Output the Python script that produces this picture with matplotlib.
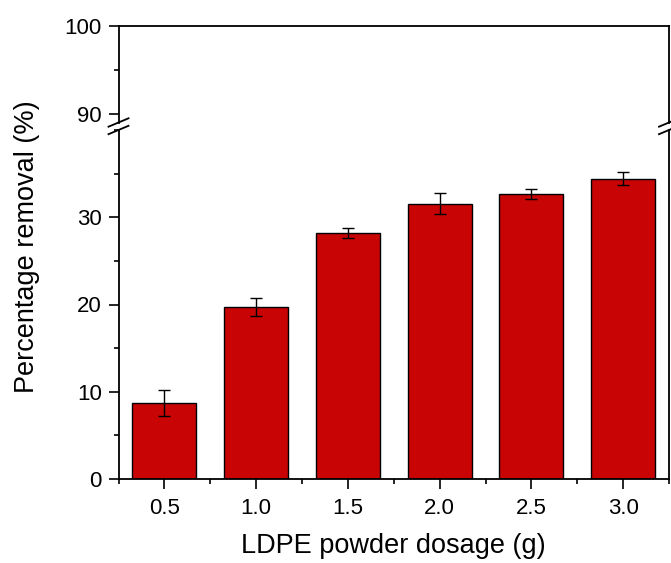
import matplotlib
matplotlib.use("Agg")
import matplotlib.pyplot as plt
from matplotlib.lines import Line2D
from matplotlib.ticker import MultipleLocator

plt.rcParams['font.family'] = ['Liberation Sans', 'DejaVu Sans']

dosage = [0.5, 1.0, 1.5, 2.0, 2.5, 3.0]
removal = [8.7, 19.75, 28.2, 31.55, 32.65, 34.4]
errors = [1.5, 1.03, 0.6, 1.2, 0.6, 0.75]
tick_labels = ['0.5', '1.0', '1.5', '2.0', '2.5', '3.0']

W, H = 671, 563
fig = plt.figure(figsize=(W / 100, H / 100), dpi=100)

# pixel geometry of the two axis segments
left, right = 118.5, 669
top_up, bot_up = 26, 122.5
top_lo, bot_lo = 130, 479

ax_up = fig.add_axes([left / W, 1 - bot_up / H, (right - left) / W, (bot_up - top_up) / H])
ax_lo = fig.add_axes([left / W, 1 - bot_lo / H, (right - left) / W, (bot_lo - top_lo) / H])

bar_color = '#C80404'
for ax in (ax_up, ax_lo):
    ax.bar(dosage, removal, width=0.35, color=bar_color, edgecolor='black', linewidth=1.0, zorder=2)
    ax.errorbar(dosage, removal, yerr=errors, fmt='none', ecolor='black', elinewidth=1.0,
                capsize=4, capthick=1.0, zorder=3)
    ax.set_xlim(0.25, 3.25)
    for s in ax.spines.values():
        s.set_linewidth(1.3)
    ax.tick_params(axis='both', which='major', direction='out', length=7, width=1.2,
                   labelsize=16, pad=5)
    ax.tick_params(axis='both', which='minor', direction='out', length=3.5, width=1.2)

ax_lo.set_ylim(0, 40)
ax_lo.set_yticks([0, 10, 20, 30])
ax_lo.yaxis.set_minor_locator(MultipleLocator(5))
ax_lo.set_xticks(dosage)
ax_lo.set_xticklabels(tick_labels)
ax_lo.xaxis.set_minor_locator(MultipleLocator(0.25))
ax_lo.tick_params(axis='x', which='major', pad=7)
ax_lo.spines['top'].set_visible(False)

ax_up.set_ylim(89, 100)
ax_up.set_yticks([90, 100])
ax_up.yaxis.set_minor_locator(MultipleLocator(5))
ax_up.spines['bottom'].set_visible(False)
ax_up.tick_params(axis='x', which='both', bottom=False, labelbottom=False)

ax_lo.set_xlabel('LDPE powder dosage (g)', fontsize=19.5, labelpad=10)
fig.text(27 / W, 1 - 247 / H, 'Percentage removal (%)', fontsize=19.5,
         rotation=90, ha='center', va='center')

# axis break marks
for x in (left, right):
    for y in (bot_up, top_lo):
        fig.add_artist(Line2D([(x - 10) / W, (x + 10) / W],
                              [1 - (y + 4.2) / H, 1 - (y - 4.2) / H],
                              transform=fig.transFigure, color='black', linewidth=1.3))

fig.savefig('out.png', dpi=100)
